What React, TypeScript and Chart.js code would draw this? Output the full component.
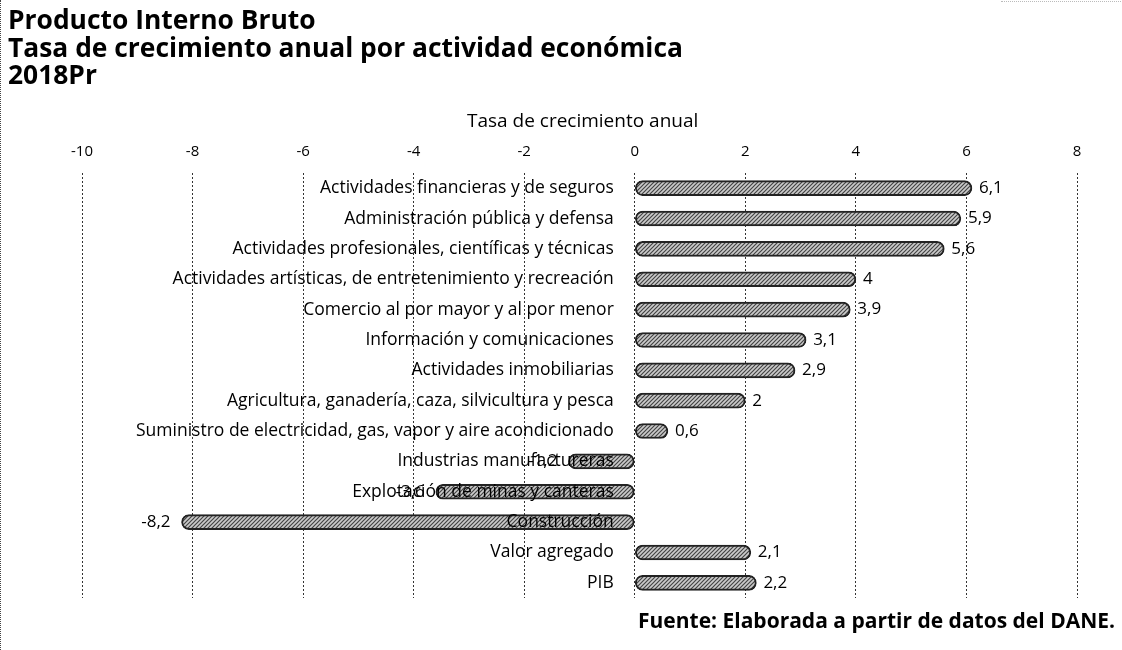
import React, { useEffect, useRef } from "react";
import { Chart, registerables } from "chart.js";
Chart.register(...registerables);

const titleLines = [
  "Producto Interno Bruto",
  "Tasa de crecimiento anual por actividad económica",
  "2018Pr",
];
const axisTitle = "Tasa de crecimiento anual";
const sourceText = "Fuente: Elaborada a partir de datos del DANE.";

const categories = [
  "Actividades financieras y de seguros",
  "Administración pública y defensa",
  "Actividades profesionales, científicas y técnicas",
  "Actividades artísticas, de entretenimiento y recreación",
  "Comercio al por mayor y al por menor",
  "Información y comunicaciones",
  "Actividades inmobiliarias",
  "Agricultura, ganadería, caza, silvicultura y pesca",
  "Suministro de electricidad, gas, vapor y aire acondicionado",
  "Industrias manufactureras",
  "Explotación de minas y canteras",
  "Construcción",
  "Valor agregado",
  "PIB",
];
const values = [6.1, 5.9, 5.6, 4, 3.9, 3.1, 2.9, 2, 0.6, -1.2, -3.6, -8.2, 2.1, 2.2];
const xMin = -10;
const xMax = 8;
const xStep = 2;

const FONT = "'Open Sans'";

function makePattern(): CanvasPattern | string {
  const c = document.createElement("canvas");
  c.width = 4;
  c.height = 4;
  const g = c.getContext("2d");
  if (!g) return "#999";
  g.fillStyle = "#cbcbcb";
  g.fillRect(0, 0, 4, 4);
  g.strokeStyle = "#444";
  g.lineWidth = 1.2;
  g.beginPath();
  g.moveTo(0, 4);
  g.lineTo(4, 0);
  g.moveTo(-1, 1);
  g.lineTo(1, -1);
  g.moveTo(3, 5);
  g.lineTo(5, 3);
  g.stroke();
  const p = g.createPattern(c, "repeat");
  return p || "#999";
}

// category labels drawn next to the zero line of the x scale, over the bars
const categoryLabels = {
  id: "categoryLabels",
  afterDatasetsDraw(chart: any) {
    const ctx = chart.ctx;
    const xs = chart.scales.x;
    const ys = chart.scales.y;
    const x0 = xs.getPixelForValue(0);
    ctx.save();
    ctx.font = `17.5px ${FONT}`;
    ctx.fillStyle = "#000";
    ctx.textAlign = "right";
    ctx.textBaseline = "middle";
    categories.forEach((c, i) => {
      ctx.fillText(c, x0 - 21, ys.getPixelForValue(i));
    });
    ctx.restore();
  },
};

const valueLabels = {
  id: "valueLabels",
  afterDatasetsDraw(chart: any) {
    const ctx = chart.ctx;
    const meta = chart.getDatasetMeta(0);
    ctx.save();
    ctx.font = `17px ${FONT}`;
    ctx.fillStyle = "#000";
    ctx.textBaseline = "middle";
    meta.data.forEach((el: any, i: number) => {
      const v = values[i];
      const txt = String(v).replace(".", ",");
      if (v >= 0) {
        ctx.textAlign = "left";
        ctx.fillText(txt, el.x + 7, el.y);
      } else {
        ctx.textAlign = "right";
        ctx.fillText(txt, el.x - 11, el.y);
      }
    });
    ctx.restore();
  },
};

export default function App() {
  const ref = useRef<HTMLCanvasElement | null>(null);
  useEffect(() => {
    if (!ref.current) return;
    Chart.defaults.font.family = FONT;
    const chart = new Chart(ref.current, {
      type: "bar",
      data: {
        labels: categories,
        datasets: [
          {
            data: values,
            backgroundColor: makePattern() as any,
            borderColor: "#222",
            borderWidth: 2,
            borderRadius: 8,
            borderSkipped: false,
            barThickness: 15,
          },
        ],
      },
      options: {
        indexAxis: "y",
        animation: false,
        responsive: false,
        maintainAspectRatio: false,
        layout: { padding: { top: 131, left: 82, right: 45, bottom: 52 } },
        plugins: {
          legend: { display: false },
          tooltip: { enabled: false },
          title: { display: false },
        },
        scales: {
          x: {
            type: "linear",
            position: "top",
            min: xMin,
            max: xMax,
            ticks: {
              stepSize: xStep,
              color: "#000",
              font: { size: 15 },
              padding: 12,
            },
            title: { display: false },
            grid: {
              display: true,
              color: "#333",
              lineWidth: 1,
              drawTicks: false,
            },
            border: { display: false, dash: [2, 2] },
          } as any,
          y: {
            type: "category",
            position: { x: 0 } as any,
            grid: { display: false, drawTicks: false },
            border: { display: false },
            ticks: { display: false, autoSkip: false },
          },
        },
      },
      plugins: [categoryLabels, valueLabels],
    });
    return () => chart.destroy();
  }, []);

  return (
    <div
      style={{
        position: "fixed",
        left: 0,
        top: 0,
        width: 1122,
        height: 650,
        background: "#fff",
        borderLeft: "1px dotted #444",
        boxSizing: "border-box",
        fontFamily: FONT,
      }}
    >
      <canvas ref={ref} width={1122} height={650} style={{ position: "absolute", left: -1, top: 0 }} />
      <div
        style={{
          position: "absolute",
          left: 1000,
          top: 1,
          width: 122,
          borderTop: "1px dotted #bbb",
        }}
      />
      <div
        style={{
          position: "absolute",
          left: 7,
          top: 6,
          fontWeight: 700,
          fontSize: 26.4,
          lineHeight: "27.5px",
          color: "#000",
          whiteSpace: "nowrap",
        }}
      >
        {titleLines.map((t, i) => (
          <div key={i}>{t}</div>
        ))}
      </div>
      <div
        style={{
          position: "absolute",
          left: 466,
          top: 107,
          fontSize: 19,
          lineHeight: "26px",
          color: "#000",
          whiteSpace: "nowrap",
        }}
      >
        {axisTitle}
      </div>
      <div
        style={{
          position: "absolute",
          right: 7,
          top: 605,
          fontWeight: 700,
          fontSize: 21,
          lineHeight: "30px",
          color: "#000",
          whiteSpace: "nowrap",
        }}
      >
        {sourceText}
      </div>
    </div>
  );
}
